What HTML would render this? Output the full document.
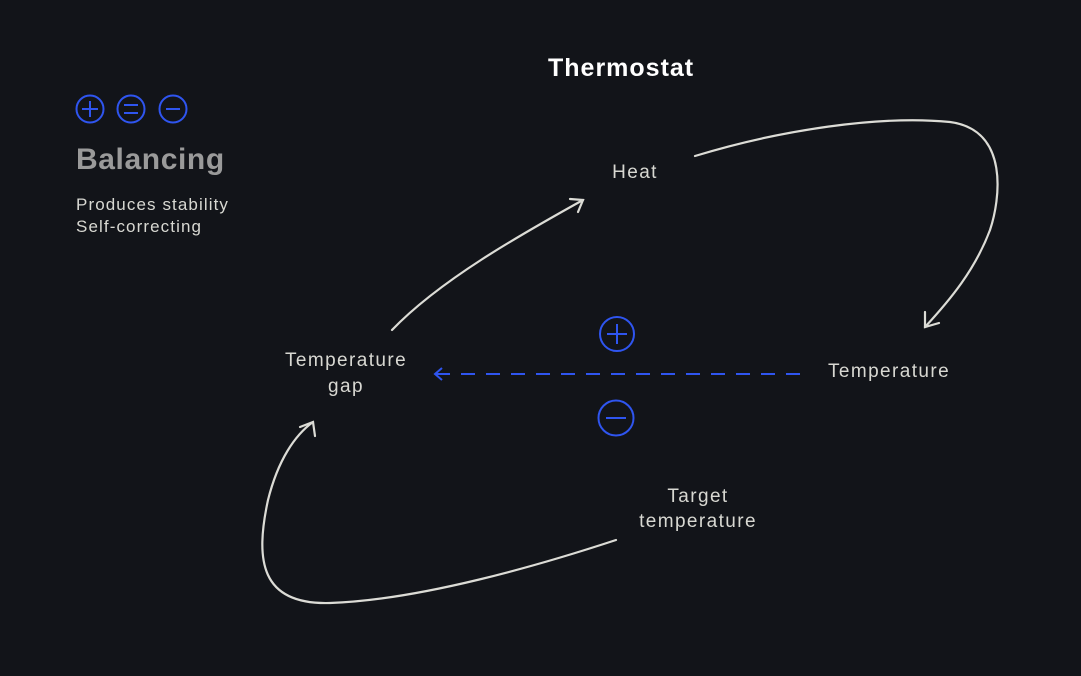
<!DOCTYPE html>
<html><head><meta charset="utf-8"><style>
html,body{margin:0;padding:0;background:#121419;}
body{width:1081px;height:676px;position:relative;overflow:hidden;font-family:"Liberation Sans",sans-serif;}
.t{position:absolute;color:#d8d8d2;font-size:19px;text-align:center;letter-spacing:1.4px;white-space:nowrap;}
</style></head><body>
<svg width="1081" height="676" style="position:absolute;left:0;top:0">
<g fill="none" stroke="#2f55f0" stroke-width="2">
<circle cx="90" cy="109" r="13.5"/><path d="M82 109h16M90 101v16"/>
<circle cx="131" cy="109" r="13.5"/><path d="M124 105h14M124 113h14"/>
<circle cx="173" cy="109" r="13.5"/><path d="M166 109h14"/>
<circle cx="617" cy="334" r="17"/><path d="M607 334h20M617 324v20"/>
<circle cx="616" cy="418" r="17.5"/><path d="M606 418h20"/>
<path d="M800 374H435" stroke-dasharray="14 11"/>
<path d="M442 368l-7 6 7 6"/>
</g>
<g fill="none" stroke="#dcdcd6" stroke-width="2.2" stroke-linecap="round">
<path d="M392 330C440 280 520 235 583 200"/>
<path d="M570 199l13 1-5 12"/>
<path d="M695 156C780 130 880 115 950 122C1010 130 1000 200 990 230C975 270 950 300 925 327"/>
<path d="M925 312l0 15 14-4"/>
<path d="M616 540C540 565 420 600 330 603C260 605 255 560 268 500C278 460 295 435 313 422"/>
<path d="M300 427l13-5 2 14"/>
</g>
</svg>
<div class="t" style="left:548px;top:54px;color:#fff;font-size:25px;font-weight:bold;letter-spacing:1px">Thermostat</div>
<div class="t" style="left:76px;top:143px;color:#9a9a9a;font-size:30px;font-weight:bold;text-align:left;letter-spacing:0.6px">Balancing</div>
<div class="t" style="left:76px;top:194px;font-size:17px;text-align:left;line-height:22px;letter-spacing:1.1px">Produces stability<br>Self-correcting</div>
<div class="t" style="left:585px;top:162px;width:100px">Heat</div>
<div class="t" style="left:256px;top:348px;width:180px;line-height:26px">Temperature<br>gap</div>
<div class="t" style="left:799px;top:361px;width:180px">Temperature</div>
<div class="t" style="left:608px;top:484px;width:180px;line-height:25px">Target<br>temperature</div>
</body></html>
